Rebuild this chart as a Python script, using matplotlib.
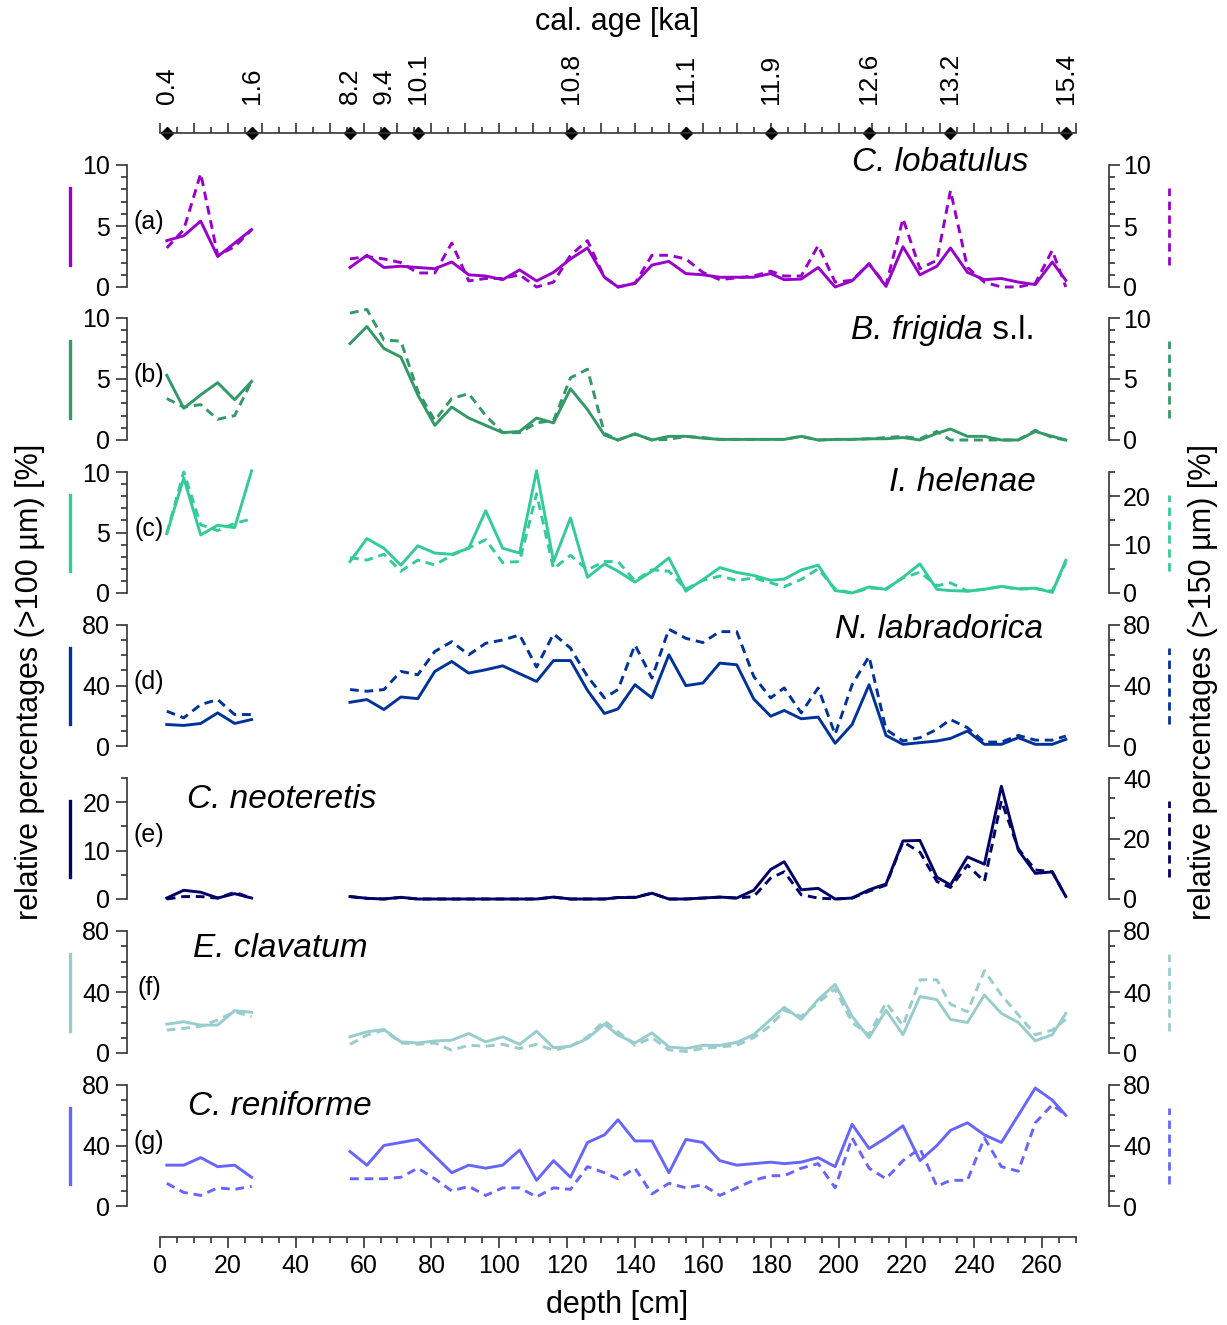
import matplotlib.pyplot as plt
import matplotlib.transforms as mtransforms
from matplotlib.ticker import MultipleLocator
import numpy as np

plt.rcParams['font.family'] = ['Liberation Sans', 'DejaVu Sans']

# sample depths [cm]
depth_top = [2, 7, 12, 17, 22, 27]
depth_main = [56, 61, 66, 71, 76, 81, 86, 91, 96, 101, 106, 111, 116, 121, 126, 131,
              135, 140, 145, 150, 155, 160, 165, 170, 175, 180,
              184, 189, 194, 199, 204, 209, 214, 219, 224, 229,
              233, 238, 243, 248, 253, 258, 263, 267]

# age control points
age_depth = [2, 27, 56, 66, 76, 121, 155, 180, 209, 233, 267]
age_labels = ['0.4', '1.6', '8.2', '9.4', '10.1', '10.8', '11.1', '11.9', '12.6', '13.2', '15.4']

# C. lobatulus
lob_100_top = [3.8, 4.2, 5.4, 2.5, 3.6, 4.7]
lob_150_top = [3.2, 4.7, 9.3, 2.6, 3.3, 4.7]
lob_100 = [1.6, 2.6, 1.6, 1.7, 1.6, 1.5, 2.05, 1.0, 0.9, 0.6, 1.4, 0.5, 1.2, 2.3, 3.2, 0.8, 0.0, 0.3, 1.8,
           2.1, 1.1, 1.0, 0.8, 0.8, 0.8, 1.1, 0.6, 0.65, 1.6, 0.0, 0.5, 1.9, 0.05, 3.3, 1.0, 1.7, 3.2,
           1.2, 0.6, 0.7, 0.4, 0.2, 2.05, 0.55]
lob_150 = [2.3, 2.5, 2.3, 2.0, 1.15, 1.15, 3.6, 0.5, 0.7, 0.7, 1.0, 0.0, 0.4, 2.6, 3.8, 0.8, 0.0, 0.3, 2.6,
           2.6, 2.3, 1.2, 0.6, 0.75, 0.9, 1.3, 0.9, 0.9, 3.4, 0.4, 0.55, 1.9, 0.15, 5.6, 1.5, 2.2, 7.9,
           1.6, 0.4, 0.0, 0.0, 0.3, 3.0, 0.0]

# B. frigida s.l.
fri_100_top = [5.3, 2.6, 3.7, 4.7, 3.3, 4.8]
fri_150_top = [3.4, 2.7, 2.9, 1.7, 2.0, 4.8]
fri_100 = [7.9, 9.3, 7.5, 6.8, 3.7, 1.2, 2.7, 1.8, 1.2, 0.6, 0.7, 1.8, 1.4, 4.2, 2.5, 0.4, 0.0, 0.5, 0.0,
           0.3, 0.3, 0.15, 0.05, 0.05, 0.05, 0.05, 0.05, 0.3, 0.0, 0.05, 0.05, 0.1, 0.1, 0.2, 0.0, 0.55,
           0.9, 0.3, 0.3, 0.0, 0.0, 0.7, 0.3, 0.0]
fri_150 = [10.4, 10.7, 8.2, 8.1, 4.0, 1.6, 3.4, 3.8, 2.0, 0.6, 0.6, 1.4, 1.6, 5.1, 5.8, 0.55, 0.0, 0.5, 0.0,
           0.05, 0.3, 0.2, 0.05, 0.05, 0.05, 0.05, 0.05, 0.3, 0.0, 0.05, 0.05, 0.1, 0.2, 0.3, 0.1, 0.7,
           0.0, 0.0, 0.0, 0.0, 0.0, 0.8, 0.2, 0.0]

# I. helenae
hel_100_top = [4.9, 9.5, 4.8, 5.6, 5.4, 10.1]
hel_150_top = [12.3, 25.0, 14.1, 12.9, 14.4, 15.3]
hel_100 = [2.6, 4.5, 3.7, 2.3, 3.9, 3.3, 3.2, 3.7, 6.8, 3.7, 3.3, 10.1, 2.6, 6.2, 1.3, 2.4, 1.8, 0.9, 1.8,
           2.9, 0.15, 1.1, 2.1, 1.7, 1.45, 1.05, 1.15, 1.9, 2.3, 0.2, 0.0, 0.5, 0.3, 1.3, 2.4, 0.3, 0.2,
           0.15, 0.3, 0.55, 0.35, 0.4, 0.05, 2.7]
hel_150 = [7.3, 6.8, 8.0, 4.5, 6.8, 5.8, 7.8, 9.3, 11.0, 6.3, 6.5, 20.5, 5.0, 7.8, 4.8, 6.5, 6.5, 2.5, 4.8,
           4.5, 0.8, 2.6, 3.5, 2.6, 3.1, 2.1, 1.3, 2.8, 5.0, 0.8, 0.0, 1.0, 0.9, 3.1, 4.3, 1.5, 2.1,
           0.4, 0.8, 1.3, 0.8, 0.9, 0.4, 6.3]

# N. labradorica
lab_100_top = [14.2, 13.6, 14.9, 21.9, 14.9, 17.5]
lab_150_top = [23.0, 18.6, 27.4, 30.7, 20.8, 20.8]
lab_100 = [28.9, 30.7, 24.1, 32.4, 31.3, 49.3, 55.9, 48.2, 50.4, 53.0, 47.8, 42.7, 56.5, 56.5, 36.8, 21.5,
           24.5, 40.5, 31.8, 60.3, 39.9, 41.6, 54.8, 53.7, 31.1, 19.7, 23.5, 18.0, 19.1, 1.8, 14.2, 40.5,
           7.0, 1.1, 2.2, 3.3, 5.0, 9.9, 1.1, 1.1, 5.5, 1.1, 1.1, 4.4]
lab_150 = [37.3, 36.2, 37.3, 49.3, 47.1, 62.5, 69.0, 60.3, 67.9, 70.1, 73.4, 52.2, 74.1, 64.7, 46.0, 31.8,
           37.3, 66.8, 44.9, 77.2, 71.2, 68.4, 75.6, 75.6, 46.0, 31.8, 38.4, 21.9, 38.4, 7.7, 40.5, 59.2,
           11.0, 3.3, 5.5, 11.0, 17.5, 12.1, 2.6, 2.6, 7.0, 3.9, 3.9, 6.6]

# C. neoteretis
neo_100_top = [0.2, 1.8, 1.4, 0.2, 1.1, 0.2]
neo_150_top = [0.0, 0.8, 0.8, 0.3, 2.2, 0.3]
neo_100 = [0.5, 0.15, 0.0, 0.35, 0.0, 0.0, 0.0, 0.0, 0.0, 0.0, 0.0, 0.0, 0.4, 0.0, 0.0, 0.0, 0.3, 0.3, 1.2,
           0.0, 0.0, 0.2, 0.4, 0.2, 1.8, 6.1, 7.7, 1.9, 2.2, 0.0, 0.2, 1.9, 3.1, 12.0, 12.1, 4.5, 2.9,
           8.7, 7.2, 23.3, 10.1, 5.3, 5.6, 0.5]
neo_150 = [0.8, 0.2, 0.0, 0.5, 0.0, 0.0, 0.0, 0.0, 0.0, 0.0, 0.0, 0.0, 0.6, 0.0, 0.0, 0.0, 0.5, 0.6, 1.9,
           0.0, 0.0, 0.3, 0.6, 0.3, 0.8, 6.9, 9.0, 1.4, 0.3, 0.0, 0.3, 2.6, 4.6, 18.9, 15.5, 5.8, 3.8,
           11.2, 5.8, 32.5, 16.6, 9.6, 9.0, 0.8]

# E. clavatum
cla_100_top = [18.9, 20.5, 18.3, 18.3, 27.8, 26.7]
cla_150_top = [15.0, 16.1, 17.6, 21.6, 27.1, 23.8]
cla_100 = [10.6, 13.9, 15.4, 7.3, 6.6, 7.9, 8.4, 12.8, 7.3, 10.6, 5.7, 14.3, 3.5, 4.4, 9.5, 18.9, 11.7,
           6.6, 13.2, 4.0, 3.0, 5.0, 5.0, 7.0, 12.0, 22.0, 30.0, 22.0, 35.0, 45.0, 24.0, 10.0, 28.0,
           12.0, 37.0, 35.0, 22.0, 20.0, 38.0, 26.0, 20.0, 8.0, 12.0, 26.0]
cla_150 = [5.7, 11.7, 15.0, 6.6, 5.7, 6.6, 1.8, 5.1, 4.4, 5.7, 2.9, 5.7, 1.8, 4.4, 10.6, 21.1, 13.9, 5.1,
           10.1, 2.0, 1.0, 3.0, 4.0, 5.0, 10.0, 18.0, 28.0, 24.0, 33.0, 42.0, 20.0, 12.0, 33.0, 18.0,
           48.0, 48.0, 32.0, 27.0, 54.0, 38.0, 25.0, 12.0, 15.0, 22.0]

# C. reniforme
ren_100_top = [27, 27, 32, 26, 27, 19]
ren_150_top = [15, 9, 7, 12, 11, 13]
ren_100 = [36, 27, 40, 42, 44, 33, 22, 27, 25, 27, 37, 17, 30, 19, 42, 47, 57, 43, 43, 22, 44, 42, 30,
           27, 28, 29, 28, 29, 32, 26, 54, 38, 45, 53, 30, 40, 50, 55, 47, 42, 60, 78, 70, 60]
ren_150 = [18, 18, 18, 19, 25, 18, 10, 13, 7, 12, 12, 6, 12, 11, 26, 22, 18, 25, 8, 15, 12, 14, 7, 12,
           17, 20, 20, 25, 28, 12, 45, 25, 18, 30, 38, 13, 17, 17, 45, 26, 23, 55, 67, 60]

# panel settings: top px, bottom px, letter, color, left (lim, major, minor), right (lim, major, minor)
panels = [
    (165, 287, '(a)', '#9900cc', (10, 5, 1), (10, 5, 1),
     lob_100_top, lob_150_top, lob_100, lob_150),
    (318, 440, '(b)', '#339966', (10, 5, 1), (10, 5, 1),
     fri_100_top, fri_150_top, fri_100, fri_150),
    (472, 593, '(c)', '#33cc99', (10, 5, 1), (25, 10, 5),
     hel_100_top, hel_150_top, hel_100, hel_150),
    (625, 746, '(d)', '#003399', (80, 40, 10), (80, 40, 10),
     lab_100_top, lab_150_top, lab_100, lab_150),
    (778, 899, '(e)', '#000066', (25, 10, 5), (40, 20, 20 / 3),
     neo_100_top, neo_150_top, neo_100, neo_150),
    (931, 1053, '(f)', '#99cccc', (80, 40, 10), (80, 40, 10),
     cla_100_top, cla_150_top, cla_100, cla_150),
    (1085, 1206, '(g)', '#6666ff', (80, 40, 10), (80, 40, 10),
     ren_100_top, ren_150_top, ren_100, ren_150),
]

W, H = 1227, 1325
X0, X1 = 160, 1076
axcol = '#333333'
off = 33 * 0.72
dash = (0, (3, 2))
tfs = 18

fig = plt.figure(figsize=(W / 100, H / 100), dpi=100)
axes = []
for i, (t, b, letter, col, lft, rgt, s_top, d_top, s_main, d_main) in enumerate(panels):
    ax = fig.add_axes([X0 / W, 1 - b / H, (X1 - X0) / W, (b - t) / H])
    ax2 = ax.twinx()
    ax.plot(depth_top, s_top, color=col, lw=2.1, clip_on=False)
    ax.plot(depth_main, s_main, color=col, lw=2.1, clip_on=False)
    ax2.plot(depth_top, d_top, color=col, lw=2.1, ls=dash, clip_on=False)
    ax2.plot(depth_main, d_main, color=col, lw=2.1, ls=dash, clip_on=False)
    ax.set_xlim(0, 270)
    ax.set_ylim(0, lft[0])
    ax2.set_ylim(0, rgt[0])
    ax.yaxis.set_major_locator(MultipleLocator(lft[1]))
    ax.yaxis.set_minor_locator(MultipleLocator(lft[2]))
    ax2.yaxis.set_major_locator(MultipleLocator(rgt[1]))
    ax2.yaxis.set_minor_locator(MultipleLocator(rgt[2]))
    for a in (ax, ax2):
        a.patch.set_visible(False)
        for s in a.spines.values():
            s.set_visible(False)
            s.set_color(axcol)
            s.set_linewidth(1.2)
    ax.spines['left'].set_visible(True)
    ax.spines['left'].set_position(('outward', off))
    ax2.spines['right'].set_visible(True)
    ax2.spines['right'].set_position(('outward', off))
    ax.tick_params(axis='y', which='major', length=8, width=1.2, color=axcol, labelsize=tfs, pad=4)
    ax.tick_params(axis='y', which='minor', length=4, width=1.2, color=axcol)
    ax2.tick_params(axis='y', which='major', length=8, width=1.2, color=axcol, labelsize=tfs, pad=2)
    ax2.tick_params(axis='y', which='minor', length=4, width=1.2, color=axcol)
    ax.tick_params(axis='x', which='both', bottom=False, top=False, labelbottom=False, labeltop=False)
    # line-style keys next to the axes
    ax.plot([-0.098, -0.098], [0.18, 0.81], transform=ax.transAxes, clip_on=False, color=col, lw=2.4)
    ax2.plot([1.102, 1.102], [0.18, 0.81], transform=ax2.transAxes, clip_on=False, color=col, lw=2.0, ls=dash)
    ax.text(-0.012, 0.53, letter, transform=ax.transAxes, ha='center', va='center', fontsize=tfs)
    axes.append(ax)

# species names
spec = dict(fontsize=24, style='italic', va='center')
axes[0].text(0.948, 1.02, 'C. lobatulus', transform=axes[0].transAxes, ha='right', **spec)
t_b = axes[1].text(0.898, 0.90, 'B. frigida', transform=axes[1].transAxes, ha='right', **spec)
axes[1].annotate(' s.l.', xy=(1, 0), xycoords=t_b, va='bottom', ha='left', fontsize=24)
axes[2].text(0.956, 0.91, 'I. helenae', transform=axes[2].transAxes, ha='right', **spec)
axes[3].text(0.964, 0.96, 'N. labradorica', transform=axes[3].transAxes, ha='right', **spec)
axes[4].text(0.030, 0.82, 'C. neoteretis', transform=axes[4].transAxes, ha='left', **spec)
axes[5].text(0.036, 0.86, 'E. clavatum', transform=axes[5].transAxes, ha='left', **spec)
axes[6].text(0.031, 0.82, 'C. reniforme', transform=axes[6].transAxes, ha='left', **spec)

# top age axis
top = axes[0]
top.spines['top'].set_visible(True)
top.spines['top'].set_position(('outward', 32 * 0.72))
top.xaxis.set_major_locator(MultipleLocator(10))
top.xaxis.set_minor_locator(MultipleLocator(5))
top.tick_params(axis='x', which='major', top=True, length=7, width=1.2, color=axcol)
top.tick_params(axis='x', which='minor', top=True, length=4, width=1.2, color=axcol)
tr = mtransforms.blended_transform_factory(top.transData, top.transAxes)
top.plot(age_depth, [1 + 32 / 122] * len(age_depth), 'D', color='black', ms=6,
         transform=tr, clip_on=False)
tr_fig = mtransforms.blended_transform_factory(top.transData, fig.transFigure)
for d, lab in zip(age_depth, age_labels):
    top.text(d, 1 - 104 / H, lab, transform=tr_fig, rotation=90, ha='center', va='bottom', fontsize=19)
fig.text(617 / W, 1 - 22 / H, 'cal. age [ka]', ha='center', va='center', fontsize=22)

# bottom depth axis
bot = axes[-1]
bot.spines['bottom'].set_visible(True)
bot.spines['bottom'].set_position(('outward', 31 * 0.72))
bot.xaxis.set_major_locator(MultipleLocator(20))
bot.xaxis.set_minor_locator(MultipleLocator(5))
bot.tick_params(axis='x', which='major', bottom=True, labelbottom=True, length=8, width=1.2,
                color=axcol, labelsize=tfs, pad=4)
bot.tick_params(axis='x', which='minor', bottom=True, length=4, width=1.2, color=axcol)
fig.text(617 / W, 1 - 1305 / H, 'depth [cm]', ha='center', va='center', fontsize=22)

fig.text(30 / W, 1 - 682 / H, 'relative percentages (>100 µm) [%]', rotation=90,
         ha='center', va='center', fontsize=22)
fig.text(1203 / W, 1 - 682 / H, 'relative percentages (>150 µm) [%]', rotation=90,
         ha='center', va='center', fontsize=22)

plt.savefig('out.png', dpi=100)
